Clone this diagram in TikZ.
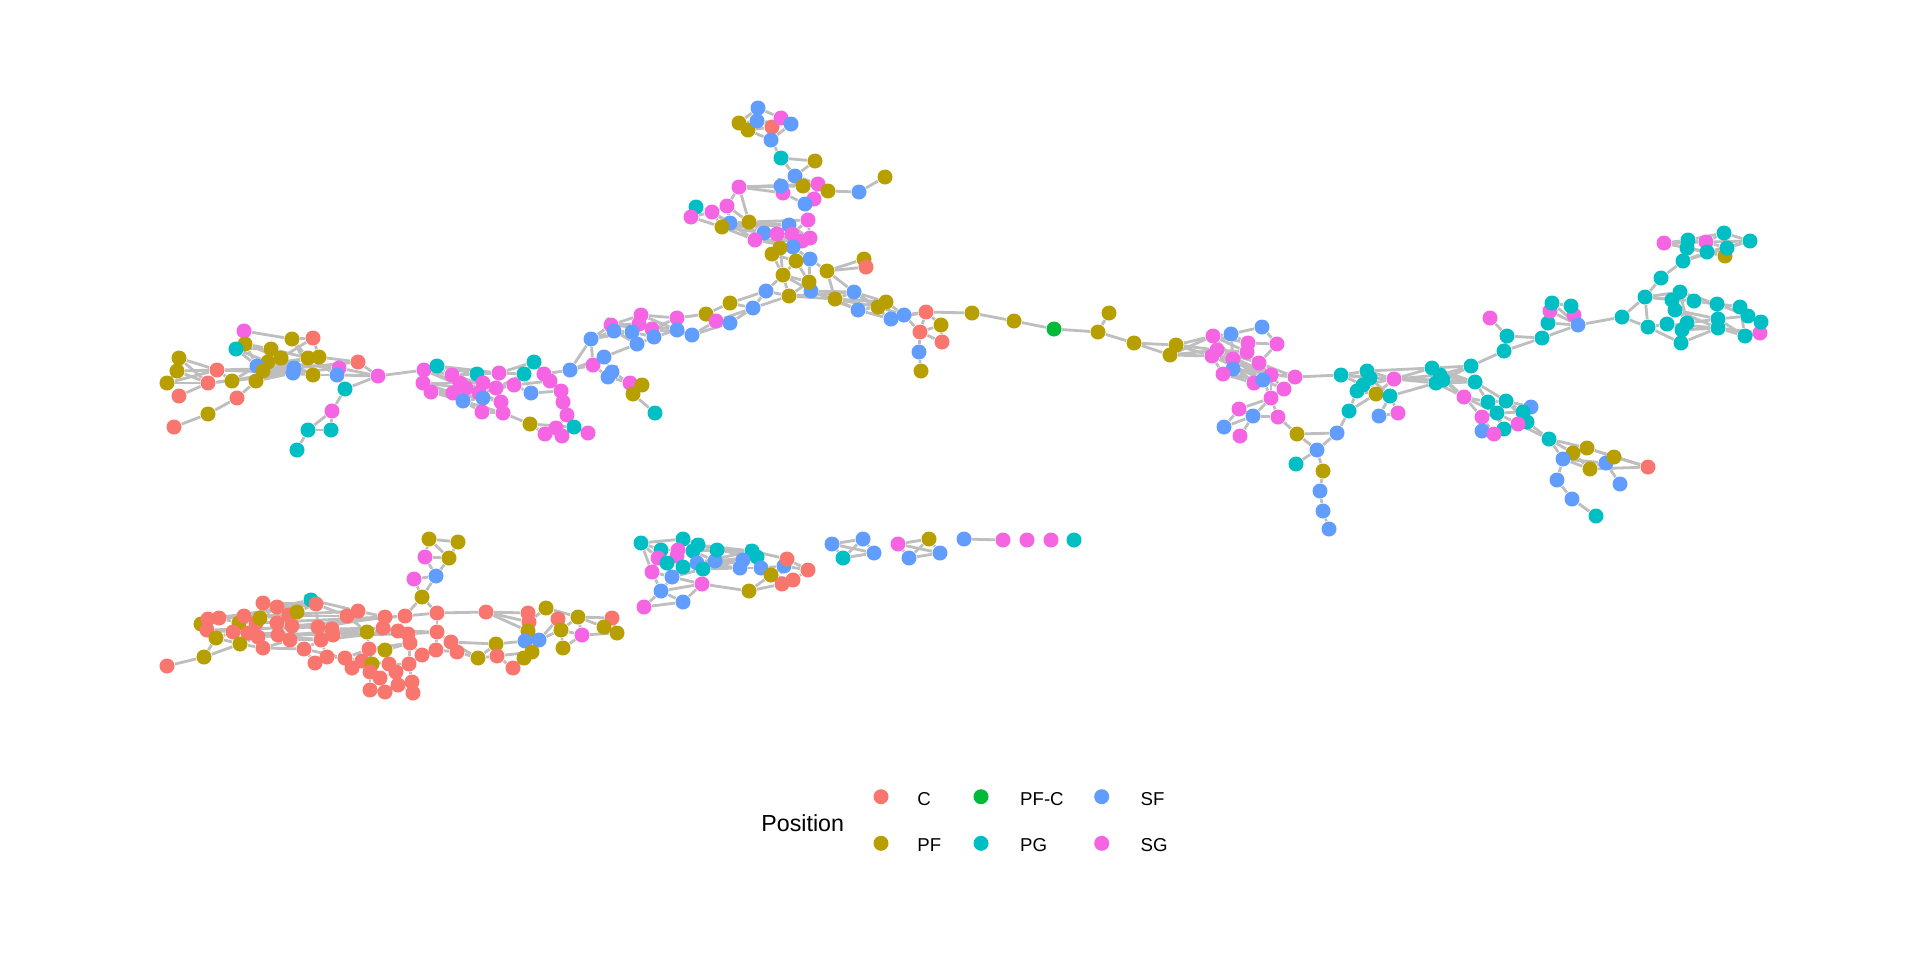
\documentclass[tikz,border=0pt]{standalone}
\usepackage{fontspec}
\setmainfont{Liberation Sans}
\pgfdeclarelayer{bg}
\pgfsetlayers{bg,main}
\definecolor{cC}{HTML}{F8766D}
\definecolor{cPF}{HTML}{B79F00}
\definecolor{cPFC}{HTML}{00BA38}
\definecolor{cPG}{HTML}{00BFC4}
\definecolor{cSF}{HTML}{619CFF}
\definecolor{cSG}{HTML}{F564E3}
\definecolor{edgegrey}{RGB}{190,190,190}
\begin{document}
\begin{tikzpicture}[x=0.01cm,y=-0.01cm,
  dot/.style={circle,inner sep=0pt,minimum size=0.15cm,draw=none},
  edge/.style={draw=edgegrey,line width=0.8pt},
  legtitle/.style={font=\fontsize{6.6pt}{7pt}\selectfont,anchor=base west,inner sep=0pt},
  leglabel/.style={font=\fontsize{5.3pt}{6pt}\selectfont,anchor=base west,inner sep=0pt}]
\useasboundingbox (0,0) rectangle (1920,960);
% ---------- nodes ----------
\foreach \n/\x/\y/\c in {
L1/244/331/SG,L2/245/344/PF,L3/236/349/PG,L4/292/339/PF,L5/313/338/C,L6/271/349/PF,L7/281/358/PF,L8/268/362/PF,L9/257/366/SF,L10/263/371/PF,
L11/256/381/PF,L12/294/368/SF,L13/293/373/SF,L14/308/358/PF,L15/319/357/PF,L16/313/375/PF,L17/339/368/SG,L18/337/375/SF,L19/358/362/C,L20/378/376/SG,
L21/345/389/PG,L22/332/411/SG,L23/308/430/PG,L24/331/430/PG,L25/297/450/PG,L26/179/358/PF,L27/177/371/PF,L28/167/383/PF,L29/217/370/C,L30/208/383/C,
L31/232/381/PF,L32/179/396/C,L33/237/398/C,L34/208/414/PF,L35/174/427/C}
  \node[dot,fill=c\c] (\n) at (\x,\y) {};
\foreach \n/\x/\y/\c in {
M1/424/370/SG,M2/437/366/PG,M3/423/383/SG,M4/431/392/SG,M5/452/375/SG,M6/460/383/SG,M7/453/393/SG,M8/466/388/SG,M9/463/401/SF,M10/477/374/PG,
M11/483/383/SG,M12/479/393/SG,M13/483/398/SF,M14/496/388/SG,M15/499/373/SG,M16/514/385/SG,M17/501/402/SG,M18/482/412/SG,M19/503/413/SG,M20/534/362/PG,
M21/524/374/PG,M22/531/393/SF,M23/544/374/SG,M24/550/381/SG,M25/561/391/SG,M26/563/402/SG,M27/567/415/SG,M28/530/424/PF,M29/545/434/SG,M30/556/428/SG,
M31/562/436/SG,M32/574/427/PG,M33/588/433/SG,M34/570/370/SF,M35/593/365/SG,M36/604/357/SF,M37/612/372/SF,M38/608/377/SF,M39/630/383/SG,M40/642/385/PF,
M41/633/394/PF,M42/655/413/PG}
  \node[dot,fill=c\c] (\n) at (\x,\y) {};
\foreach \n/\x/\y/\c in {
K1/591/339/SF,K2/611/325/SG,K3/614/331/SF,K4/641/315/SG,K5/639/324/SG,K6/652/329/SG,K7/632/332/SF,K8/654/337/SF,K9/637/344/SF,K10/677/318/SG,
K11/677/330/SF,K12/692/335/SF,K13/706/314/PF,K14/716/321/SG,K15/730/323/SF,K16/730/303/PF,K17/753/308/SF,K18/766/291/SF,K19/789/296/PF,K20/811/291/SF,
K21/835/299/PF,K22/854/292/SF,K23/858/310/SF,K24/878/307/PF,K25/886/302/PF,K26/891/319/SF,K27/904/315/SF,K28/926/312/C,K29/941/325/PF,K30/920/332/C,
K31/942/342/C,K32/919/352/SF,K33/921/371/PF,
C1/972/313/PF,C2/1014/321/PF,C3/1054/329/PFC,C4/1098/332/PF,C5/1109/313/PF,C6/1134/343/PF,C7/1176/345/PF,C8/1170/355/PF}
  \node[dot,fill=c\c] (\n) at (\x,\y) {};
\foreach \n/\x/\y/\c in {
T1/758/108/SF,T2/739/123/PF,T3/748/130/PF,T4/757/121/SF,T5/772/127/C,T6/781/118/SG,T7/791/124/SF,T8/771/140/SF,T9/781/158/PG,T10/815/161/PF,
T11/795/176/SF,T12/739/187/SG,T14/783/193/SG,T13/781/186/SF,T15/803/186/PF,T16/818/184/SG,T17/828/191/PF,T18/859/192/SF,T19/885/177/PF,T20/814/199/SG,
T21/805/204/SF,T22/696/207/PG,T23/691/217/SG,T24/712/212/SG,T25/727/206/SG,T26/730/223/SF,T27/722/227/PF,T28/749/222/PF,T29/808/220/SG,T30/789/225/SF,
T31/764/233/SF,T32/777/234/SG,T33/755/240/SG,T34/792/234/SG,T35/802/241/SG,T36/810/238/SG,T37/793/247/SF,T38/780/248/PF,T39/772/254/PF,T40/810/259/SF,
T41/796/261/PF,T42/864/259/PF,T43/866/267/C,T44/783/275/PF,T45/809/282/PF,T46/827/271/PF}
  \node[dot,fill=c\c] (\n) at (\x,\y) {};
\foreach \n/\x/\y/\c in {
R1/1213/336/SG,R2/1231/334/SF,R3/1262/327/SF,R4/1248/343/SG,R5/1277/344/SG,R6/1217/350/SG,R7/1212/356/SG,R8/1247/352/SG,R9/1233/359/SG,R10/1259/363/SG,
R11/1233/369/SF,R12/1223/374/SG,R13/1271/375/SG,R14/1254/383/SG,R15/1263/380/SF,R16/1284/389/SG,R17/1295/377/SG,R18/1271/398/SG,R19/1239/409/SG,R20/1253/416/SF,
R21/1278/417/SG,R22/1224/427/SF,R23/1240/436/SG,R24/1297/434/PF,R25/1337/433/SF,R26/1317/450/SF,R27/1296/464/PG,R28/1323/471/PF,R29/1320/491/SF,R30/1323/511/SF,
R31/1329/529/SF,
P1/1341/375/PG,P2/1367/371/PG,P3/1370/378/PG,P4/1363/385/PG,P5/1357/391/PG,P6/1376/394/PF,P7/1390/396/PG,P8/1394/379/SG,P9/1349/411/PG,P10/1379/416/SF,P11/1398/413/SG}
  \node[dot,fill=c\c] (\n) at (\x,\y) {};
\foreach \n/\x/\y/\c in {
Q1/1432/368/PG,Q2/1440/375/PG,Q3/1436/383/PG,Q4/1443/380/PG,Q5/1471/366/PG,Q6/1475/382/PG,Q7/1504/351/PG,Q8/1507/336/PG,Q9/1490/318/SG,Q10/1542/338/PG,
Q11/1548/323/PG,Q12/1550/311/SG,Q13/1552/303/PG,Q15/1574/315/SG,Q14/1571/306/PG,Q16/1578/325/SF,Q17/1622/317/PG,
S1/1464/397/SG,S2/1488/402/PG,S3/1506/401/PG,S4/1531/407/SF,S5/1497/413/PG,S6/1482/417/SG,S7/1523/412/PG,S8/1527/422/PG,S9/1518/424/SG,S10/1504/429/PG,
S11/1482/431/SF,S12/1494/434/SG,S13/1549/439/PG,S14/1573/453/PF,S15/1587/448/PF,S16/1563/459/SF,S18/1606/463/SF,S17/1590/469/PF,S19/1614/457/PF,S20/1648/467/C,
S21/1557/480/SF,S22/1620/484/SF,S23/1572/499/SF,S24/1596/516/PG}
  \node[dot,fill=c\c] (\n) at (\x,\y) {};
\foreach \n/\x/\y/\c in {
U1/1664/243/SG,U2/1688/240/PG,U3/1687/248/PG,U4/1706/242/SG,U5/1707/252/PG,U6/1724/233/PG,U7/1750/241/PG,U8/1725/256/PF,U9/1727/248/PG,U10/1683/261/PG,
U11/1661/278/PG,U12/1645/297/PG,U13/1680/292/PG,U14/1672/300/PG,U15/1694/301/PG,U16/1717/304/PG,U17/1675/310/PG,U18/1740/307/PG,U19/1748/316/PG,U21/1760/333/SG,
U20/1761/322/PG,U22/1745/336/PG,U23/1718/319/PG,U24/1718/328/PG,U25/1687/323/PG,U26/1667/324/PG,U27/1648/327/PG,U28/1682/330/PG,U29/1681/343/PG}
  \node[dot,fill=c\c] (\n) at (\x,\y) {};
\foreach \n/\x/\y/\c in {
B1/429/539/PF,B2/458/542/PF,B3/425/557/SG,B4/449/558/PF,B5/436/576/SF,B6/414/579/SG,B7/422/597/PF,B8/167/666/C,B9/204/657/PF,B10/201/624/PF,
B11/208/619/C,B12/219/618/C,B14/207/630/C,B13/216/638/PF,B15/239/623/PF,B16/244/616/C,B17/233/632/C,B18/248/633/C,B19/240/644/PF,B20/256/623/C,
B21/258/637/C,B22/260/618/PF,B23/263/603/C,B24/277/607/C,B25/263/648/C,B26/277/623/C,B27/278/635/C,B28/289/615/C,B29/292/626/C,B30/290/640/C,
B31/297/612/PF,B32/311/600/PG,B33/316/604/C,B34/304/649/C,B35/318/627/C,B36/321/640/C,B37/332/629/C,B38/333/635/C,B39/315/663/C,B40/327/657/C,
B41/347/616/C,B42/358/611/C,B43/367/632/PF,B44/345/658/C,B45/352/668/C,B46/362/661/C,B47/369/649/C,B48/372/664/PF,B49/385/617/C,B50/383/628/C,
B51/385/650/PF,B52/405/616/C,B53/398/631/C,B54/408/634/C,B55/410/643/C,B56/437/613/C,B57/437/632/C,B58/422/655/C,B59/436/650/C,B60/370/672/C,
B61/380/678/C,B62/389/664/C,B63/396/672/C,B64/409/664/C,B65/398/685/C,B66/412/682/C,B67/370/690/C,B68/385/692/C,B69/413/693/C,B70/486/612/C,
B71/451/642/C,B72/457/652/C,B74/478/658/PF,B75/496/644/PF,B76/497/656/C,B77/513/668/C,B78/528/613/C,B79/529/622/C,B80/546/608/PF,B81/558/619/C,
B82/528/631/PF,B83/525/641/SF,B84/539/640/SF,B85/561/630/PF,B86/532/652/PF,B87/524/658/PF,B88/563/648/PF,B89/578/617/PF,B90/582/635/SG,B91/612/618/C,
B92/604/627/PF,B93/617/633/PF}
  \node[dot,fill=c\c] (\n) at (\x,\y) {};
\foreach \n/\x/\y/\c in {
D1/641/543/PG,D2/683/539/PG,D3/661/550/PG,D4/698/545/PG,D5/693/551/PG,D6/678/550/SG,D7/677/556/SG,D8/658/558/SG,D9/667/563/PG,D10/683/567/PG,
D11/697/563/SF,D12/703/569/PG,D13/715/561/SF,D14/717/550/PG,D15/652/572/SG,D16/672/577/SF,D17/702/584/SG,D18/661/591/SF,D19/683/602/SF,D20/644/607/SG,
D21/752/551/PG,D22/757/557/PG,D23/743/560/SF,D24/740/568/SF,D25/761/568/SF,D26/784/566/SF,D27/787/559/C,D28/771/575/PF,D29/808/570/C,D30/793/580/C,
D31/782/584/C,D32/749/591/PF,
E1/832/544/SF,E2/863/539/SF,E3/874/553/SF,E4/843/558/PG,
F1/898/544/SG,F2/929/539/PF,F3/909/558/SF,F4/940/553/SF,
G1/964/539/SF,G2/1003/540/SG,G3/1027/540/SG,G4/1051/540/SG,G5/1074/540/PG}
  \node[dot,fill=c\c] (\n) at (\x,\y) {};
% ---------- edges ----------
\begin{pgfonlayer}{bg}
\fill[white] (0,0) rectangle (1920,960);
\foreach \a/\b in {
L26/L29,L27/L29,L28/L30,L26/L30,L27/L30,L32/L30,L29/L31,L30/L31,L31/L9,L31/L12,L29/L12,L30/L13,L1/L2,L1/L4,L2/L6,L2/L7,L3/L6,L3/L9,L4/L5,L4/L14,
L5/L15,L5/L7,L6/L12,L7/L12,L8/L13,L9/L14,L10/L16,L11/L12,L11/L33,L33/L34,L34/L35,L12/L16,L13/L17,L14/L18,L15/L19,L16/L18,L17/L20,L18/L21,L19/L20,L21/L20,
L21/L22,L22/L23,L22/L24,L23/L24,L23/L25,L18/L20,L12/L19,L8/L17,L10/L14,L6/L13,L7/L16,L9/L16,L10/L12,L8/L12,L11/L13,L4/L16,L28/L29,L26/L27,L27/L28,
L29/L13,L31/L13,L9/L12,L10/L13,L6/L14,L8/L16,L2/L9,L3/L8,
L20/M1,
M1/M3,M1/M2,M1/M5,M2/M5,M3/M4,M3/M7,M4/M7,M4/M9,M5/M10,M5/M6,M6/M8,M6/M11,M7/M12,M9/M13,M8/M12,M10/M15,M10/M11,M11/M14,M12/M17,M13/M17,
M13/M18,M14/M16,M15/M20,M15/M21,M16/M22,M17/M19,M18/M19,M19/M28,M20/M23,M20/M21,M21/M22,M22/M25,M23/M34,M23/M24,M24/M25,M25/M26,M26/M27,M27/M30,M28/M29,M28/M32,
M29/M30,M30/M31,M31/M32,M32/M33,M9/M18,M34/M35,M34/M36,M35/M36,M36/M37,M35/M38,M37/M38,M38/M39,M39/M40,M39/M41,M40/M41,M41/M42,M37/M39,M2/M10,M3/M6,
M4/M12,M7/M13,M14/M21,M16/M24,M1/M8,M3/M11,M4/M13,M9/M19,M2/M15,M5/M14,M8/M16,M12/M16,M1/M6,M3/M8,M4/M8,M7/M11}
  \draw[edge] (\a) -- (\b);
\foreach \a/\b in {
K1/K2,K1/K3,K1/K7,K1/M34,K1/M35,K2/K3,K2/K4,K2/K5,K3/K7,K4/K5,K4/K10,K5/K6,K6/K10,K6/K8,K7/K8,K7/K9,K8/K11,K8/K9,K9/M36,K10/K11,
K10/K13,K11/K12,K12/K14,K12/K15,K13/K14,K13/K16,K14/K17,K15/K17,K16/K17,K16/K18,K17/K18,K17/K19,K18/K19,K18/T44,K19/T44,K19/T45,K19/K21,K20/K21,K20/K22,K20/T45,
K20/T44,K21/K22,K21/K23,K21/K25,K22/K24,K22/K25,K22/K26,K23/K24,K23/K26,K24/K27,K25/K27,K26/K27,K27/K28,K26/K28,K28/K29,K28/K30,K29/K30,K30/K31,K29/K31,K30/K32,
K32/K33,K27/K30,K21/T46,K22/T46,K5/K11,K6/K12,K3/K9,K2/K6,K4/K11,K19/K22,K20/K23,K21/K24,
K28/C1,C1/C2,C2/C3,C3/C4,C4/C5,C4/C6,C6/C7,C6/C8,C7/C8,C7/R1,C7/R7,C8/R7,C8/R1,C7/R6,C8/R6,
T1/T2,T1/T4,T1/T6,T2/T3,T2/T4,T3/T5,T3/T8,T4/T5,T5/T6,T5/T8,T6/T7,T7/T8,T4/T7,T8/T9,T9/T10,T9/T11,T10/T11,T11/T13,T11/T15,T11/T16,
T12/T13,T12/T14,T12/T15,T12/T16,T13/T15,T13/T14,T15/T16,T16/T17,T17/T18,T18/T19,T15/T20,T16/T20,T20/T21,T14/T21,T21/T29,T12/T25,T22/T23,T22/T24,T23/T24,T24/T25,
T25/T26,T24/T27,T26/T28,T27/T28,T27/T31,T26/T30,T28/T30,T28/T31,T24/T33,T26/T33,T27/T33,T23/T27,T29/T34,T30/T32,T31/T32,T32/T34,T33/T35,T34/T35,T35/T36,T29/T36,
T36/T37,T37/T38,T38/T39,T35/T38,T37/T40,T40/T41,T39/T44,T41/T44,T41/T45,T40/T45,T40/T46,T46/T42,T46/T43,T38/T44,T39/T41,T44/T45,T42/T43,T28/T29,T30/T36,T31/T35,
T33/T37,T32/T38,T25/T28,T12/T28,T26/T31,T27/T30,T24/T26}
  \draw[edge] (\a) -- (\b);
\foreach \a/\b in {
R1/R2,R2/R3,R3/R5,R1/R4,R2/R4,R4/R5,R4/R8,R6/R8,R7/R9,R6/R10,R8/R10,R5/R10,R9/R11,R11/R12,R9/R13,R10/R13,R11/R14,R12/R14,R13/R17,R14/R15,
R15/R16,R10/R17,R13/R18,R16/R18,R15/R18,R18/R19,R18/R20,R18/R21,R19/R20,R20/R22,R19/R22,R20/R23,R20/R21,R21/R24,R24/R25,R24/R26,R25/R26,R26/R27,R26/R28,R28/R29,
R29/R30,R30/R31,R6/R11,R7/R12,R1/R9,R6/R13,R7/R15,R12/R15,R9/R15,R11/R17,R1/R8,R2/R9,R8/R16,R7/R13,R6/R14,
R17/P1,P1/P2,P1/P3,P1/P4,P1/P8,P2/P8,P3/P8,P4/P8,P5/P6,P4/P5,P5/P9,P9/R25,P6/P7,P7/P10,P7/P11,P10/P11,P6/P8,P3/P6,P6/P9,P3/P7,
P8/Q1,P8/Q2,P8/Q3,P8/Q4,P7/Q3,P2/Q1,
Q1/Q5,Q2/Q5,Q3/Q5,Q4/Q5,Q1/Q6,Q2/Q6,Q3/Q6,Q4/Q6,Q1/Q2,Q3/Q4,Q5/Q7,Q7/Q8,Q8/Q9,Q8/Q10,Q7/Q10,Q10/Q11,Q10/Q16,Q11/Q12,Q11/Q13,Q12/Q13,
Q13/Q14,Q14/Q15,Q15/Q16,Q12/Q16,Q11/Q16,Q14/Q16,Q13/Q16,Q16/Q17,
Q4/S1,Q3/S1,Q6/S2,Q6/S3,Q2/S1,S1/S2,S1/S6,S1/S5,S2/S3,S2/S5,S3/S4,S3/S7,S4/S7,S5/S7,S5/S6,S6/S11,S6/S12,S7/S8,S8/S9,S9/S10,
S10/S12,S11/S12,S5/S9,S5/S10,S7/S9,S8/S13,S9/S13,S13/S14,S13/S15,S13/S16,S14/S15,S14/S16,S15/S19,S14/S17,S16/S17,S16/S18,S17/S19,S18/S19,S19/S20,S15/S20,
S17/S20,S18/S22,S16/S21,S21/S23,S23/S24,S2/S10,S3/S8,
Q17/U12,Q17/U27,U12/U11,U11/U10,U10/U2,U10/U3,U10/U9,U10/U5,U1/U2,U1/U3,U1/U5,U2/U4,U3/U5,U4/U6,U4/U9,U5/U8,U6/U7,U7/U9,U8/U9,U6/U9,
U2/U6,U4/U7,U5/U7,U1/U4,U3/U8,U12/U13,U12/U14,U12/U15,U13/U16,U14/U17,U15/U16,U16/U18,U16/U23,U13/U15,U17/U23,U17/U24,U18/U19,U19/U20,U20/U21,U21/U22,
U22/U23,U22/U24,U23/U19,U24/U21,U18/U22,U27/U26,U27/U29,U26/U28,U25/U28,U28/U29,U25/U23,U26/U24,U28/U24,U29/U24,U13/U25,U14/U25,U12/U27,U15/U18,U16/U19}
  \draw[edge] (\a) -- (\b);
\foreach \a/\b in {
B1/B2,B1/B4,B2/B4,B1/B3,B3/B4,B3/B5,B4/B5,B5/B6,B6/B7,B5/B7,B7/B52,B7/B56,B56/B70,B70/B78,B70/B79,B70/B82,B8/B9,B9/B19,B10/B11,B10/B14,
B11/B12,B12/B16,B14/B13,B13/B17,B11/B14,B12/B15,B15/B16,B15/B17,B16/B20,B17/B18,B18/B19,B18/B21,B19/B25,B20/B22,B20/B21,B22/B23,B23/B24,B22/B24,B24/B28,B24/B31,
B23/B33,B24/B32,B32/B33,B26/B28,B26/B27,B27/B29,B28/B29,B29/B30,B30/B25,B25/B34,B21/B27,B20/B26,B28/B31,B31/B33,B33/B35,B29/B35,B30/B36,B34/B36,B35/B37,B36/B38,
B37/B38,B34/B39,B39/B40,B40/B44,B36/B40,B37/B41,B35/B41,B41/B42,B42/B49,B41/B43,B43/B47,B38/B43,B44/B45,B45/B46,B46/B47,B47/B48,B44/B46,B43/B50,B49/B50,B49/B52,
B50/B53,B52/B53,B53/B54,B54/B55,B55/B51,B51/B47,B51/B62,B48/B60,B60/B61,B61/B62,B62/B63,B63/B64,B64/B66,B63/B65,B65/B66,B60/B67,B67/B68,B68/B65,B66/B69,B65/B69,
B55/B58,B58/B59,B57/B59,B56/B57,B54/B57,B52/B56,B57/B71,B59/B72,B71/B72,B58/B64,B72/B74,B71/B74,B74/B75,B74/B76,B75/B76,B76/B77,B77/B87,B75/B83,B82/B83,B83/B84,
B84/B85,B85/B88,B84/B86,B86/B87,B82/B78,B78/B79,B79/B80,B80/B81,B81/B85,B80/B89,B85/B89,B85/B90,B88/B90,B89/B92,B89/B91,B91/B93,B92/B93,B90/B93,B89/B90,B79/B82,
B81/B84,B75/B71,B11/B33,B14/B35,B17/B36,B16/B41,B12/B42,B20/B49,B27/B43,B21/B50,B29/B52,B36/B53,B38/B54,B18/B38,B10/B13,B9/B13,B32/B16,B32/B42,B33/B41,B35/B49,
B37/B50,B43/B53,B47/B55,B50/B54,B34/B44,B46/B62,B55/B64,B10/B12,B14/B17,B19/B21,B26/B35,B27/B36,B29/B37,B22/B28,B15/B20,B13/B19,B44/B47,B61/B63,B62/B64,B53/B57,
B79/B83,B82/B84,B76/B86,
D1/D2,D1/D3,D1/D8,D2/D4,D2/D6,D3/D6,D3/D9,D4/D5,D5/D14,D6/D7,D7/D9,D8/D15,D9/D10,D10/D11,D11/D12,D12/D13,D13/D14,D4/D14,D14/D21,D13/D23,
D12/D24,D11/D21,D14/D22,D13/D22,D10/D23,D21/D22,D22/D23,D23/D24,D22/D25,D24/D25,D25/D26,D21/D27,D26/D27,D27/D29,D26/D29,D25/D28,D28/D31,D28/D30,D29/D30,D30/D31,
D26/D28,D15/D16,D16/D12,D16/D17,D15/D18,D16/D18,D17/D18,D18/D19,D19/D20,D18/D20,D17/D19,D17/D32,D32/D28,D32/D31,D9/D16,D1/D15,D5/D13,D4/D21,D10/D22,D3/D8,
D2/D5,D6/D9,D7/D10,D11/D22,D12/D23,D2/D14,D5/D21,D4/D22,D11/D24,
E1/E2,E1/E3,E2/E3,E1/E4,E4/E3,E2/E4,
F1/F2,F1/F4,F2/F4,F3/F4,F1/F3,F2/F3,
G1/G2}
  \draw[edge] (\a) -- (\b);
\end{pgfonlayer}
% ---------- legend ----------
\node[legtitle] (legtitle) at (760.7,831) {Position};
\node[dot,fill=cC]   (kC)   at (881,796.7) {};
\node[dot,fill=cPF]  (kPF)  at (881,843.3) {};
\node[dot,fill=cPFC] (kPFC) at (981,796.7) {};
\node[dot,fill=cPG]  (kPG)  at (981,843.3) {};
\node[dot,fill=cSF]  (kSF)  at (1101.7,796.7) {};
\node[dot,fill=cSG]  (kSG)  at (1101.7,843.3) {};
\node[leglabel] (lC)   at (916.7,805) {C};
\node[leglabel] (lPF)  at (916.7,851) {PF};
\node[leglabel] (lPFC) at (1019.5,805) {PF-C};
\node[leglabel] (lPG)  at (1019.5,851) {PG};
\node[leglabel] (lSF)  at (1140,805) {SF};
\node[leglabel] (lSG)  at (1140,851) {SG};
\end{tikzpicture}
\end{document}
